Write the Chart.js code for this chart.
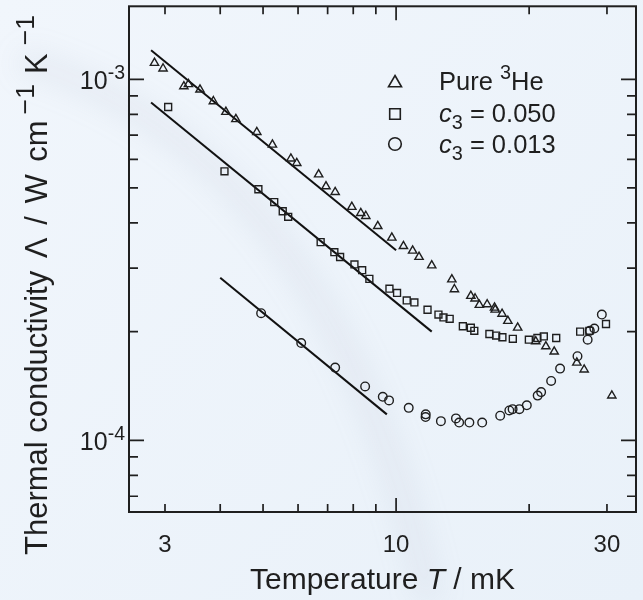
<!DOCTYPE html>
<html>
<head>
<meta charset="utf-8">
<title>Thermal conductivity vs temperature</title>
<script src="https://cdn.jsdelivr.net/npm/chart.js@4.4.1/dist/chart.umd.min.js"></script>
<style>
  html, body { margin: 0; padding: 0; background: #edf3fa; }
  #wrap { width: 643px; height: 600px; }
</style>
</head>
<body>
<div id="wrap"><canvas id="chart" width="643" height="600"></canvas></div>
<script>
// Temperature in mK, conductivity in W cm^-1 K^-1
const pureT = [2.84, 2.97, 3.31, 3.39, 3.60, 3.86, 4.12, 4.34, 4.84, 5.25, 5.78, 5.96, 6.68, 6.94, 7.28,
  7.94, 8.32, 8.54, 9.09, 9.78, 10.39, 10.9, 11.27, 12.04, 13.37, 13.55, 14.76, 15.09, 15.43, 16.07,
  16.70, 16.76, 17.37, 17.90, 18.84, 20.70, 21.82, 22.79, 25.64, 26.64, 30.77];
const pureK = [1.110e-3, 1.071e-3, 9.56e-4, 9.69e-4, 9.36e-4, 8.69e-4, 8.12e-4, 7.75e-4, 7.14e-4, 6.59e-4,
  6.03e-4, 5.86e-4, 5.45e-4, 5.05e-4, 4.87e-4, 4.43e-4, 4.26e-4, 4.18e-4, 3.92e-4, 3.64e-4, 3.45e-4,
  3.35e-4, 3.22e-4, 3.05e-4, 2.79e-4, 2.62e-4, 2.51e-4, 2.47e-4, 2.37e-4, 2.38e-4, 2.33e-4, 2.30e-4,
  2.24e-4, 2.14e-4, 2.05e-4, 1.88e-4, 1.82e-4, 1.76e-4, 1.64e-4, 1.57e-4, 1.33e-4];

const c050T = [3.05, 4.09, 4.88, 5.30, 5.54, 5.70, 6.75, 7.25, 7.47, 8.05, 8.38, 8.70, 9.66, 10.05, 10.57,
  11.0, 11.78, 12.47, 12.80, 13.22, 14.16, 14.76, 15.03, 16.26, 16.84, 17.40, 18.37, 19.97, 20.88, 21.59,
  23.03, 26.09, 27.37, 29.85];
const c050K = [8.38e-4, 5.56e-4, 4.96e-4, 4.57e-4, 4.31e-4, 4.16e-4, 3.54e-4, 3.32e-4, 3.22e-4, 3.07e-4,
  2.96e-4, 2.80e-4, 2.63e-4, 2.56e-4, 2.44e-4, 2.41e-4, 2.30e-4, 2.23e-4, 2.19e-4, 2.17e-4, 2.07e-4,
  2.05e-4, 2.01e-4, 1.97e-4, 1.95e-4, 1.93e-4, 1.91e-4, 1.90e-4, 1.92e-4, 1.94e-4, 1.92e-4, 2.00e-4,
  2.01e-4, 2.10e-4];

const c013T = [4.95, 6.10, 7.28, 8.51, 9.33, 9.64, 10.68, 11.67, 11.66, 12.63, 13.66, 13.89, 14.65, 15.66,
  17.20, 18.04, 18.35, 19.01, 19.76, 20.91, 21.29, 22.43, 23.50, 25.73, 27.13, 27.44, 28.09, 29.21];
const c013K = [2.25e-4, 1.86e-4, 1.59e-4, 1.41e-4, 1.32e-4, 1.29e-4, 1.23e-4, 1.18e-4, 1.16e-4, 1.13e-4,
  1.15e-4, 1.12e-4, 1.12e-4, 1.12e-4, 1.17e-4, 1.21e-4, 1.22e-4, 1.22e-4, 1.25e-4, 1.33e-4, 1.36e-4,
  1.46e-4, 1.58e-4, 1.71e-4, 1.90e-4, 2.01e-4, 2.04e-4, 2.23e-4];

// 1/T fit lines, end points only
const fitPureT = [2.79, 10.0];
const fitPureK = [1.203e-3, 3.36e-4];
const fitC050T = [2.79, 12.04];
const fitC050K = [8.62e-4, 2.00e-4];
const fitC013T = [4.0, 9.53];
const fitC013K = [2.82e-4, 1.18e-4];

// axes
const xTicks = [3, 4, 5, 6, 7, 8, 9, 10, 20, 30];
const xLabels = [3, 10, 30];
const yTicks = [7e-5, 8e-5, 9e-5, 1e-4, 2e-4, 3e-4, 4e-4, 5e-4, 6e-4, 7e-4, 8e-4, 9e-4, 1e-3];
const yLabels = [{ v: 1e-3, exp: '-3' }, { v: 1e-4, exp: '-4' }];

const FONT = '"Liberation Sans", Arial, Helvetica, sans-serif';
const INK = '#1f1f1f';

function toPoints(xs, ys) {
  return xs.map((x, i) => ({ x: x, y: ys[i] }));
}

function isDecade(v) {
  const l = Math.log10(v);
  return Math.abs(l - Math.round(l)) < 1e-9;
}

// draws a row of text pieces: italic / sup / sub, or a blank gap in px
function drawRich(ctx, parts, x, y, size, align) {
  const fontFor = p => (p.i ? 'italic ' : '') + ((p.sup || p.sub) ? size * (p.s || 0.78) : size) + 'px ' + FONT;
  const widthOf = p => {
    if (p.gap) return p.gap;
    ctx.font = fontFor(p);
    return ctx.measureText(p.t).width;
  };
  const total = parts.reduce((s, p) => s + widthOf(p), 0);
  let cx = align === 'center' ? x - total / 2 : align === 'right' ? x - total : x;
  parts.forEach(p => {
    const w = widthOf(p);
    if (!p.gap) {
      const dy = p.sup ? -size * 0.42 : p.sub ? size * 0.28 : 0;
      ctx.fillText(p.t, cx, y + dy);
    }
    cx += w;
  });
}

const markerStyle = {
  borderColor: INK,
  backgroundColor: 'rgba(0,0,0,0)',
  borderWidth: 1.4,
  showLine: false
};

const fitStyle = {
  type: 'line',
  borderColor: '#111',
  borderWidth: 2,
  pointRadius: 0,
  showLine: true,
  fill: false
};

const decorPlugin = {
  id: 'decor',
  beforeDraw(chart) {
    const ctx = chart.ctx;
    ctx.save();
    const g = ctx.createLinearGradient(0, 0, chart.width, chart.height);
    g.addColorStop(0, '#f1f6fc');
    g.addColorStop(1, '#e9f1f9');
    ctx.fillStyle = g;
    ctx.fillRect(0, 0, chart.width, chart.height);
    // faint swoosh in the background
    ctx.filter = 'blur(14px)';
    ctx.strokeStyle = 'rgba(150,158,172,0.11)';
    ctx.lineWidth = 24;
    ctx.beginPath();
    ctx.moveTo(20, 60);
    ctx.quadraticCurveTo(330, 150, 430, 600);
    ctx.stroke();
    ctx.restore();
  },
  afterDatasetsDraw(chart) {
    const { ctx, chartArea: a, scales } = chart;
    const sx = scales.x, sy = scales.y;
    ctx.save();
    ctx.strokeStyle = INK;
    ctx.fillStyle = INK;

    // frame
    ctx.lineWidth = 2;
    ctx.strokeRect(a.left, a.top, a.right - a.left, a.bottom - a.top);

    // inward ticks on all four sides
    ctx.lineWidth = 1.7;
    ctx.beginPath();
    xTicks.forEach(v => {
      const px = sx.getPixelForValue(v);
      const len = isDecade(v) ? 14 : 8;
      ctx.moveTo(px, a.bottom); ctx.lineTo(px, a.bottom - len);
      ctx.moveTo(px, a.top); ctx.lineTo(px, a.top + len);
    });
    yTicks.forEach(v => {
      const py = sy.getPixelForValue(v);
      const len = isDecade(v) ? 15 : 9;
      ctx.moveTo(a.left, py); ctx.lineTo(a.left + len, py);
      ctx.moveTo(a.right, py); ctx.lineTo(a.right - len, py);
    });
    ctx.stroke();

    // tick labels
    ctx.textBaseline = 'alphabetic';
    ctx.font = '24px ' + FONT;
    ctx.textAlign = 'center';
    xLabels.forEach(v => ctx.fillText(String(v), sx.getPixelForValue(v), 552));
    ctx.textAlign = 'left';
    yLabels.forEach(l => {
      const py = sy.getPixelForValue(l.v);
      drawRich(ctx, [{ t: '10' }, { t: l.exp, sup: true }], 125, py + 10, 25, 'right');
    });

    // axis titles
    drawRich(ctx, [{ t: 'Temperature ' }, { t: 'T', i: true }, { t: ' / mK' }],
      (a.left + a.right) / 2, 589, 30, 'center');

    ctx.save();
    ctx.translate(47, 285);
    ctx.rotate(-Math.PI / 2);
    drawRich(ctx, [{ t: 'Thermal conductivity ' }, { gap: 4 }, { t: 'Λ' }, { gap: 4 }, { t: ' / ' }, { gap: 4 },
      { t: 'W' }, { gap: 4 }, { t: ' cm' }, { gap: 6 }, { t: '−1', sup: true, s: 0.86 }, { gap: 10 },
      { t: 'K' }, { gap: 8 }, { t: '−1', sup: true, s: 0.86 }], 0, 0, 31, 'center');
    ctx.restore();

    // legend
    const legendRows = [
      { style: 'triangle', r: 7.5, y: 83, parts: [{ t: 'Pure ' }, { t: '3', sup: true }, { t: 'He' }], base: 90 },
      { style: 'rect', r: 7.5, y: 114, parts: [{ t: 'c', i: true }, { t: '3', sub: true }, { t: ' = 0.050' }], base: 122 },
      { style: 'circle', r: 6.3, y: 144, parts: [{ t: 'c', i: true }, { t: '3', sub: true }, { t: ' = 0.013' }], base: 153 }
    ];
    legendRows.forEach(row => {
      ctx.fillStyle = 'rgba(0,0,0,0)';
      ctx.lineWidth = 1.6;
      Chart.helpers.drawPoint(ctx, { pointStyle: row.style, radius: row.r, borderWidth: 1.6 }, 395, row.y);
      ctx.fillStyle = INK;
      drawRich(ctx, row.parts, 439, row.base, 25.5, 'left');
    });
    ctx.restore();
  }
};

new Chart(document.getElementById('chart'), {
  type: 'scatter',
  data: {
    datasets: [
      Object.assign({ label: 'Pure 3He', data: toPoints(pureT, pureK), pointStyle: 'triangle', pointRadius: 4.8 }, markerStyle),
      Object.assign({ label: 'c3 = 0.050', data: toPoints(c050T, c050K), pointStyle: 'rect', pointRadius: 4.9 }, markerStyle),
      Object.assign({ label: 'c3 = 0.013', data: toPoints(c013T, c013K), pointStyle: 'circle', pointRadius: 4.3 }, markerStyle),
      Object.assign({ label: 'fit pure', data: toPoints(fitPureT, fitPureK) }, fitStyle),
      Object.assign({ label: 'fit 0.050', data: toPoints(fitC050T, fitC050K) }, fitStyle),
      Object.assign({ label: 'fit 0.013', data: toPoints(fitC013T, fitC013K) }, fitStyle)
    ]
  },
  options: {
    responsive: false,
    devicePixelRatio: 1,
    animation: false,
    layout: { padding: { left: 129, right: 7, top: 6, bottom: 88 } },
    scales: {
      x: { type: 'logarithmic', min: 2.487, max: 34.9, display: false },
      y: { type: 'logarithmic', min: 6.33e-5, max: 1.593e-3, display: false }
    },
    plugins: {
      legend: { display: false },
      tooltip: { enabled: false }
    }
  },
  plugins: [decorPlugin]
});
</script>
</body>
</html>
